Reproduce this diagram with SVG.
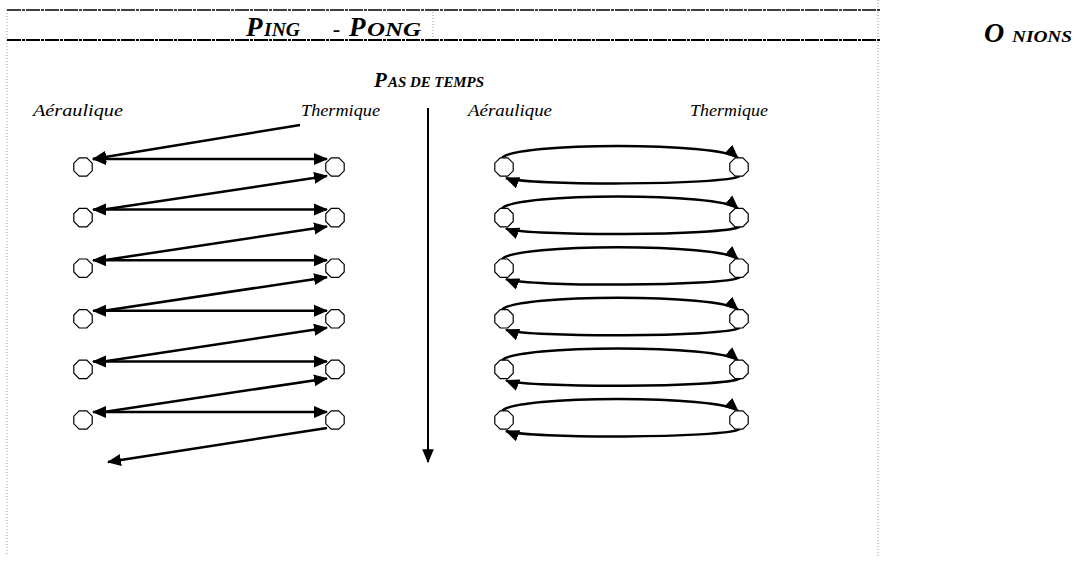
<svg xmlns="http://www.w3.org/2000/svg" width="1077" height="568" viewBox="0 0 1077 568">
<style>
.t{font-family:"Liberation Serif",serif;font-style:italic;font-weight:bold;fill:#000}
.lab{font-family:"Liberation Serif",serif;font-style:italic;font-size:17px;fill:#000}
.dot{stroke:#999;stroke-width:1;stroke-dasharray:1 2;fill:none}
.oct{fill:#fff;stroke:#000;stroke-width:1.2}
.pp{stroke:#000;stroke-width:2.5;fill:none}
.on{stroke:#000;stroke-width:2.5;fill:none}
</style>
<defs>
<marker id="ah" markerUnits="userSpaceOnUse" markerWidth="16" markerHeight="14" refX="13" refY="6" orient="auto-start-reverse" viewBox="0 0 16 12">
<path d="M0,0 L14,6 L0,12 Z" fill="#000"/>
</marker>
<marker id="ahs" markerUnits="userSpaceOnUse" markerWidth="14" markerHeight="12" refX="11" refY="5" orient="auto" viewBox="0 0 12 10">
<path d="M0,0 L12,5 L0,10 Z" fill="#000"/>
</marker>
<polygon id="o" points="3.8,-9.2 -3.8,-9.2 -9.2,-3.8 -9.2,3.8 -3.8,9.2 3.8,9.2 9.2,3.8 9.2,-3.8" class="oct"/>
</defs>
<rect width="1077" height="568" fill="#fff"/>
<g id="frame">
<line x1="7" y1="10" x2="7" y2="556" class="dot"/>
<line x1="878" y1="0" x2="878" y2="556" class="dot"/>
<line x1="433" y1="12" x2="433" y2="38" class="dot"/>
<line x1="7" y1="10" x2="880" y2="10" stroke="#000" stroke-width="1.5" stroke-dasharray="14 1 3 1"/>
<line x1="7" y1="40" x2="880" y2="40" stroke="#000" stroke-width="2" stroke-dasharray="14 1 3 1"/>
</g>
<g id="titles">
<text class="t" y="36"><tspan x="246" font-size="27">P</tspan><tspan x="264" font-size="18" textLength="36" lengthAdjust="spacingAndGlyphs">ING</tspan><tspan x="333" font-size="22">-</tspan><tspan x="349" font-size="27">P</tspan><tspan x="367" font-size="18" textLength="54" lengthAdjust="spacingAndGlyphs">ONG</tspan></text>
<text class="t" y="42"><tspan x="984" font-size="28">O</tspan><tspan x="1012" font-size="16" textLength="60" lengthAdjust="spacingAndGlyphs">NIONS</tspan></text>
<text class="t" y="87"><tspan x="374" font-size="21">P</tspan><tspan x="388" font-size="15" textLength="96" lengthAdjust="spacingAndGlyphs">AS DE TEMPS</tspan></text>
<text class="lab" x="33" y="116" textLength="90" lengthAdjust="spacingAndGlyphs">Aéraulique</text>
<text class="lab" x="301" y="116" textLength="79" lengthAdjust="spacingAndGlyphs">Thermique</text>
<text class="lab" x="468" y="116" textLength="84" lengthAdjust="spacingAndGlyphs">Aéraulique</text>
<text class="lab" x="690" y="116" textLength="78" lengthAdjust="spacingAndGlyphs">Thermique</text>
</g>
<g id="connectors">
<line x1="428" y1="108" x2="428" y2="462" stroke="#000" stroke-width="2" marker-end="url(#ahs)"/>
<line x1="300" y1="125" x2="93" y2="159" class="pp" marker-end="url(#ah)"/>
<line x1="93" y1="159" x2="327" y2="159" class="pp" marker-start="url(#ah)" marker-end="url(#ah)"/>
<line x1="93" y1="209.6" x2="327" y2="209.6" class="pp" marker-start="url(#ah)" marker-end="url(#ah)"/>
<line x1="93" y1="260.2" x2="327" y2="260.2" class="pp" marker-start="url(#ah)" marker-end="url(#ah)"/>
<line x1="93" y1="310.8" x2="327" y2="310.8" class="pp" marker-start="url(#ah)" marker-end="url(#ah)"/>
<line x1="93" y1="361.4" x2="327" y2="361.4" class="pp" marker-start="url(#ah)" marker-end="url(#ah)"/>
<line x1="93" y1="412" x2="327" y2="412" class="pp" marker-start="url(#ah)" marker-end="url(#ah)"/>
<line x1="97" y1="210.6" x2="327" y2="176" class="pp" marker-end="url(#ah)"/>
<line x1="97" y1="261.2" x2="327" y2="226.6" class="pp" marker-end="url(#ah)"/>
<line x1="97" y1="311.8" x2="327" y2="277.2" class="pp" marker-end="url(#ah)"/>
<line x1="97" y1="362.4" x2="327" y2="327.8" class="pp" marker-end="url(#ah)"/>
<line x1="97" y1="413" x2="327" y2="378.4" class="pp" marker-end="url(#ah)"/>
<line x1="327" y1="428" x2="108" y2="462" class="pp" marker-end="url(#ah)"/>
<g id="onion-arcs">
<path d="M502,158 C515,142 720,142 738,158" class="on" marker-end="url(#ah)"/>
<path d="M740,176 C725,185.5 525,185.5 506,178" class="on" marker-end="url(#ah)"/>
<path d="M502,208.6 C515,192.6 720,192.6 738,208.6" class="on" marker-end="url(#ah)"/>
<path d="M740,226.6 C725,236.1 525,236.1 506,228.6" class="on" marker-end="url(#ah)"/>
<path d="M502,259.2 C515,243.2 720,243.2 738,259.2" class="on" marker-end="url(#ah)"/>
<path d="M740,277.2 C725,286.7 525,286.7 506,279.2" class="on" marker-end="url(#ah)"/>
<path d="M502,309.8 C515,293.8 720,293.8 738,309.8" class="on" marker-end="url(#ah)"/>
<path d="M740,327.8 C725,337.3 525,337.3 506,329.8" class="on" marker-end="url(#ah)"/>
<path d="M502,360.4 C515,344.4 720,344.4 738,360.4" class="on" marker-end="url(#ah)"/>
<path d="M740,378.4 C725,387.9 525,387.9 506,380.4" class="on" marker-end="url(#ah)"/>
<path d="M502,411 C515,395 720,395 738,411" class="on" marker-end="url(#ah)"/>
<path d="M740,429 C725,438.5 525,438.5 506,431" class="on" marker-end="url(#ah)"/>
</g>
</g>
<g id="pp-left"><use href="#o" x="83" y="167"/><use href="#o" x="83" y="217.6"/><use href="#o" x="83" y="268.2"/><use href="#o" x="83" y="318.8"/><use href="#o" x="83" y="369.4"/><use href="#o" x="83" y="420"/></g>
<g id="pp-right"><use href="#o" x="335" y="167"/><use href="#o" x="335" y="217.6"/><use href="#o" x="335" y="268.2"/><use href="#o" x="335" y="318.8"/><use href="#o" x="335" y="369.4"/><use href="#o" x="335" y="420"/></g>
<g id="on-left"><use href="#o" x="504" y="167"/><use href="#o" x="504" y="217.6"/><use href="#o" x="504" y="268.2"/><use href="#o" x="504" y="318.8"/><use href="#o" x="504" y="369.4"/><use href="#o" x="504" y="420"/></g>
<g id="on-right"><use href="#o" x="739" y="167"/><use href="#o" x="739" y="217.6"/><use href="#o" x="739" y="268.2"/><use href="#o" x="739" y="318.8"/><use href="#o" x="739" y="369.4"/><use href="#o" x="739" y="420"/></g>
</svg>
